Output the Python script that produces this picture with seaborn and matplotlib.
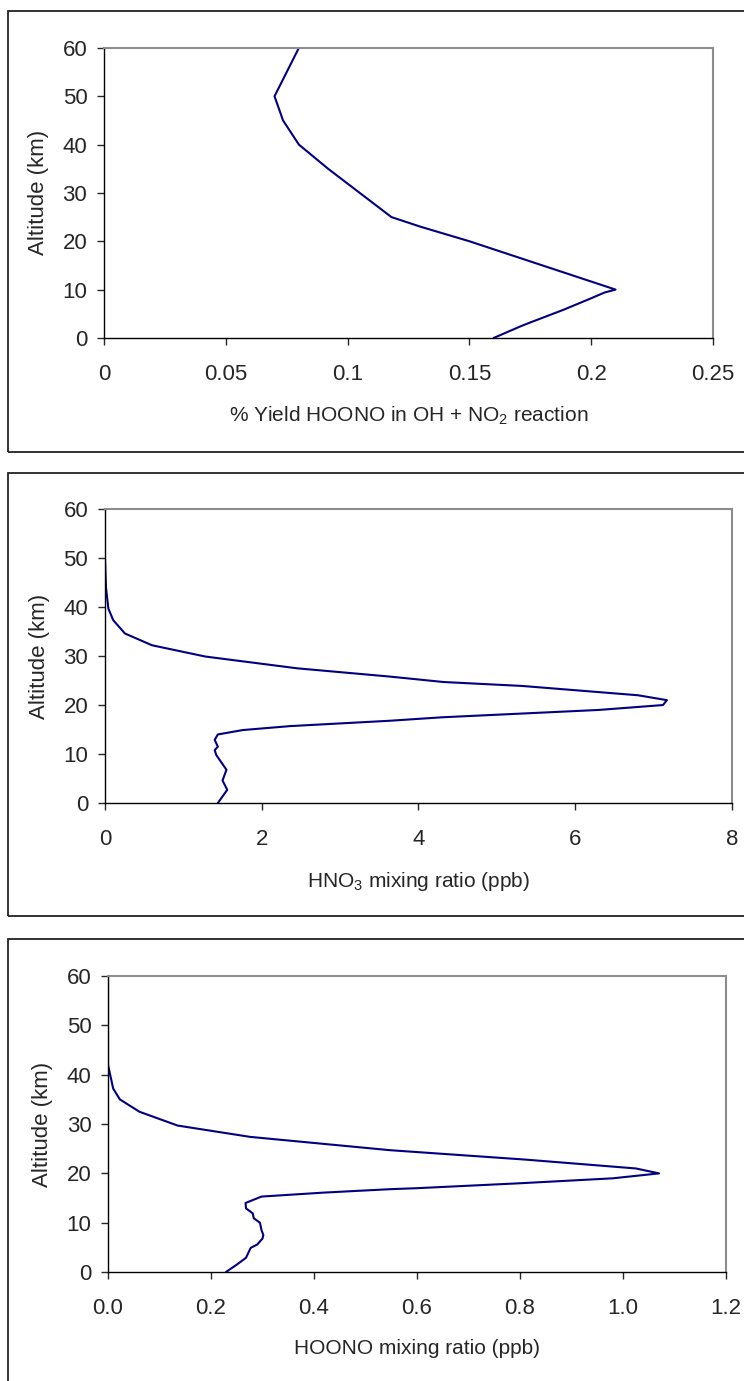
import numpy as np
import pandas as pd
import seaborn as sns
import matplotlib.pyplot as plt
from matplotlib.patches import Rectangle
from matplotlib.ticker import FuncFormatter

# ---- data ----
# panel 1: % yield HOONO
YIELD_ALT = [0, 2.4, 3.2, 5.8, 8.1, 9.4, 10, 14, 16, 17, 20, 23, 25, 30, 35, 40, 45, 50, 55, 60]
YIELD_VAL = [0.160, 0.171, 0.175, 0.1885, 0.1995, 0.2055, 0.210, 0.186, 0.174, 0.168,
             0.150, 0.130, 0.118, 0.105, 0.092, 0.080, 0.0735, 0.070, 0.075, 0.080]

# panel 2: HNO3 mixing ratio (ppb)
HNO3_ALT = [0, 2.7, 4.6, 6.8, 9.8, 10.8, 11.5, 12.9, 14, 14.9, 15.7, 16.8, 17.5, 19, 20, 21,
            22, 23.9, 24.7, 25.8, 27.5, 29.9, 32.2, 34.6, 37.3, 39.7, 44, 50, 55, 60]
HNO3_VAL = [1.44, 1.56, 1.50, 1.55, 1.42, 1.40, 1.44, 1.40, 1.44, 1.76, 2.36, 3.64, 4.3, 6.3,
            7.12, 7.17, 6.8, 5.32, 4.32, 3.64, 2.45, 1.28, 0.60, 0.255, 0.106, 0.043, 0.013,
            0.0, 0.0, 0.0]

# panel 3: HOONO mixing ratio (ppb)
HOONO_ALT = [0, 1.5, 2.9, 4.9, 5.6, 6.8, 7.5, 8.5, 10.0, 10.9, 11.9, 12.9, 14, 15.3, 16.1, 16.8,
             17, 18, 19, 20, 21, 22.8, 24.7, 27.4, 29.7, 32.5, 35, 37.2, 42, 50, 55, 60]
HOONO_VAL = [0.229, 0.25, 0.268, 0.277, 0.29, 0.30, 0.3016, 0.298, 0.295, 0.283, 0.281, 0.268,
             0.267, 0.298, 0.418, 0.548, 0.60, 0.80, 0.98, 1.07, 1.025, 0.81, 0.548, 0.276,
             0.135, 0.061, 0.023, 0.010, 0.0, 0.0, 0.0, 0.0]

ALT_TICKS = [0, 10, 20, 30, 40, 50, 60]
LINE_COLOR = "#000080"

sns.set_style("ticks")
plt.rcParams['font.family'] = ['Liberation Sans', 'DejaVu Sans']
plt.rcParams['mathtext.default'] = 'regular'

fig = plt.figure(figsize=(7.44, 13.81), dpi=100)

# outer chart frames (figure coords)
for y0, y1 in [(0.6727, 0.9920), (0.3367, 0.6575), (-0.05, 0.3201)]:
    fig.add_artist(Rectangle((0.0108, y0), 1.2, y1 - y0, transform=fig.transFigure,
                             fill=False, ec="#222222", lw=1.3))


def draw_panel(rect, vals, alts, xmax, xticks, fmt, xlabel):
    ax = fig.add_axes(rect)
    df = pd.DataFrame({"x": vals, "alt": alts})
    sns.lineplot(data=df, x="x", y="alt", sort=False, estimator=None,
                 color=LINE_COLOR, lw=1.5, ax=ax)
    ax.set_xlim(0, xmax)
    ax.set_ylim(0, 60)
    ax.set_xticks(xticks)
    ax.set_yticks(ALT_TICKS)
    ax.xaxis.set_major_formatter(FuncFormatter(fmt))
    ax.tick_params(axis="y", labelsize=16, length=5, width=1, pad=7)
    ax.tick_params(axis="x", labelsize=16, length=5, width=1, pad=14)
    ax.set_xlabel(xlabel, fontsize=15, labelpad=14)
    ax.set_ylabel("Altitude (km)", fontsize=16, labelpad=10)
    for s in ["left", "bottom"]:
        ax.spines[s].set_color("black")
        ax.spines[s].set_linewidth(1.0)
    for s in ["top", "right"]:
        ax.spines[s].set_visible(True)
        ax.spines[s].set_color("#8c8c8c")
        ax.spines[s].set_linewidth(1.5)
    return ax


draw_panel([0.1398, 0.7553, 0.8185, 0.2100], YIELD_VAL, YIELD_ALT, 0.25,
           [0, 0.05, 0.1, 0.15, 0.2, 0.25], lambda v, p: f"{v:g}",
           "% Yield HOONO in OH + NO$_2$ reaction")
draw_panel([0.1411, 0.4185, 0.8427, 0.2129], HNO3_VAL, HNO3_ALT, 8,
           [0, 2, 4, 6, 8], lambda v, p: f"{v:g}",
           "HNO$_3$ mixing ratio (ppb)")
draw_panel([0.1452, 0.0789, 0.8306, 0.2143], HOONO_VAL, HOONO_ALT, 1.2,
           [0, 0.2, 0.4, 0.6, 0.8, 1.0, 1.2], lambda v, p: f"{v:.1f}",
           "HOONO mixing ratio (ppb)")

fig.savefig("out.png", dpi=100)
